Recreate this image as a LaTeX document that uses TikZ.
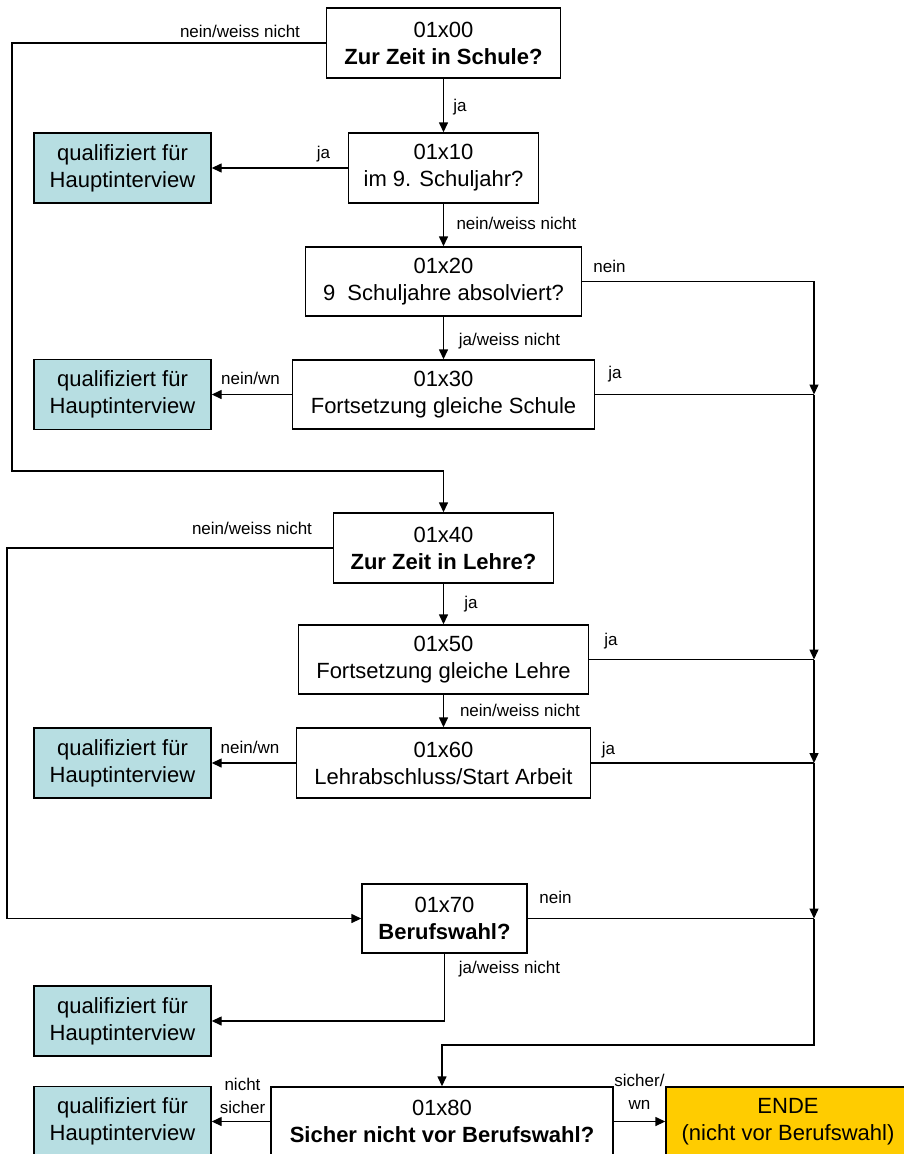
\documentclass[tikz,border=0pt]{standalone}
\usepackage{fontspec}
\setmainfont{Liberation Sans}
\usetikzlibrary{arrows.meta}
\definecolor{qualcol}{RGB}{183,222,226}
\definecolor{endcol}{RGB}{255,204,0}
\newcommand{\boxfnt}{\fontsize{22}{27}\selectfont}
\newcommand{\lblfnt}{\fontsize{17}{23}\selectfont}
\begin{document}
\begin{tikzpicture}[x=1pt,y=-1pt,
  box/.style={draw, line width=1.4pt, inner sep=0pt, align=center, font=\boxfnt, fill=white},
  qual/.style={box, fill=qualcol, minimum width=177pt, minimum height=70pt},
  endbox/.style={box, fill=endcol},
  conn/.style={line width=1.4pt},
  arr/.style={conn, -{Triangle[length=10pt,width=9pt]}},
  lbl/.style={font=\lblfnt, inner sep=0pt, align=center}]
\useasboundingbox[fill=white] (0,0) rectangle (904,1154);

% question boxes
\node[box, minimum width=234pt, minimum height=70pt] (n00) at (443.5,43) {01x00\\\textbf{Zur Zeit in Schule?}};
\node[box, minimum width=190pt, minimum height=70pt] (n10) at (443.5,168) {01x10\\im 9. Schuljahr?};
\node[box, minimum width=276pt, minimum height=69pt] (n20) at (443.5,281.5) {01x20\\9~ Schuljahre absolviert?};
\node[box, minimum width=302pt, minimum height=69pt] (n30) at (443.5,394.5) {01x30\\Fortsetzung gleiche Schule};
\node[box, minimum width=220pt, minimum height=70pt] (n40) at (443.5,548) {01x40\\\textbf{Zur Zeit in Lehre?}};
\node[box, minimum width=290pt, minimum height=69pt] (n50) at (443.5,659.5) {01x50\\Fortsetzung gleiche Lehre};
\node[box, minimum width=294pt, minimum height=70pt] (n60) at (443.5,763) {01x60\\Lehrabschluss/Start Arbeit};
\node[box, minimum width=165pt, minimum height=69pt] (n70) at (444.5,918.5) {01x70\\\textbf{Berufswahl?}};
\node[box, minimum width=342pt, minimum height=69pt] (n80) at (442,1121.5) {01x80\\\textbf{Sicher nicht vor Berufswahl?}};
\node[endbox, minimum width=244pt, minimum height=69pt] (ende) at (788,1121.5) {ENDE\\(nicht vor Berufswahl)};

% qualified boxes
\node[qual] (q1) at (122.5,168) {qualifiziert für\\Hauptinterview};
\node[qual] (q2) at (122.5,394.5) {qualifiziert für\\Hauptinterview};
\node[qual] (q3) at (122.5,763) {qualifiziert für\\Hauptinterview};
\node[qual] (q4) at (122.5,1021) {qualifiziert für\\Hauptinterview};
\node[qual] (q5) at (122.5,1121.5) {qualifiziert für\\Hauptinterview};

% helper coordinates
\coordinate (lb1) at (12,471);
\coordinate (lbx) at (7,0);
\coordinate (bus) at (814,0);
\coordinate (j1) at (n30.east -| bus);
\coordinate (j2) at (n50.east -| bus);
\coordinate (j3) at (n60.east -| bus);
\coordinate (j4) at (n70.east -| bus);
\coordinate (jb) at (814,1045);

% main flow
\draw[arr] (n00.south) -- (n10.north);
\draw[arr] (n10.west) -- (q1.east);
\draw[arr] (n10.south) -- (n20.north);
\draw[arr] (n20.south) -- (n30.north);
\draw[arr] (n30.west) -- (q2.east);
\draw[arr] (n00.west) -| (lb1) -| (n40.north);
\draw[arr] (n40.south) -- (n50.north);
\draw[arr] (n50.south) -- (n60.north);
\draw[arr] (n60.west) -- (q3.east);
\draw[arr] (n40.west) -| (n70.west -| lbx) -- (n70.west);
\draw[arr] (n70.south) |- (q4.east);
\draw[arr] (n80.west) -- (q5.east);
\draw[arr] (n80.east) -- (ende.west);

% right bus
\draw[arr] (n20.east) -| (j1);
\draw[conn] (n30.east) -- (j1);
\draw[arr] (j1) -- (j2);
\draw[conn] (n50.east) -- (j2);
\draw[arr] (j2) -- (j3);
\draw[conn] (n60.east) -- (j3);
\draw[arr] (j3) -- (j4);
\draw[conn] (n70.east) -- (j4);
\draw[arr] (j4) -- (jb) -| (n80.north);

% labels
\node[lbl] (t1) at (240,31) {nein/weiss nicht};
\node[lbl] (t2) at (460,107) {ja};
\node[lbl] (t3) at (323.5,154) {ja};
\node[lbl] (t4) at (516.5,223) {nein/weiss nicht};
\node[lbl] (t5) at (609.5,266) {nein};
\node[lbl] (t6) at (509.5,341) {ja/weiss nicht};
\node[lbl] (t7) at (250.5,378) {nein/wn};
\node[lbl] (t8) at (615,374) {ja};
\node[lbl] (t9) at (252,528) {nein/weiss nicht};
\node[lbl] (t10) at (471,604) {ja};
\node[lbl] (t11) at (611,641) {ja};
\node[lbl] (t12) at (520,710) {nein/weiss nicht};
\node[lbl] (t13) at (250,747) {nein/wn};
\node[lbl] (t14) at (608.5,750) {ja};
\node[lbl] (t15) at (555.5,897) {nein};
\node[lbl] (t16) at (509.5,969) {ja/weiss nicht};
\node[lbl] (t17) at (242.5,1095.5) {nicht\\sicher};
\node[lbl] (t18) at (639.5,1091.5) {sicher/\\wn};
\end{tikzpicture}
\end{document}
